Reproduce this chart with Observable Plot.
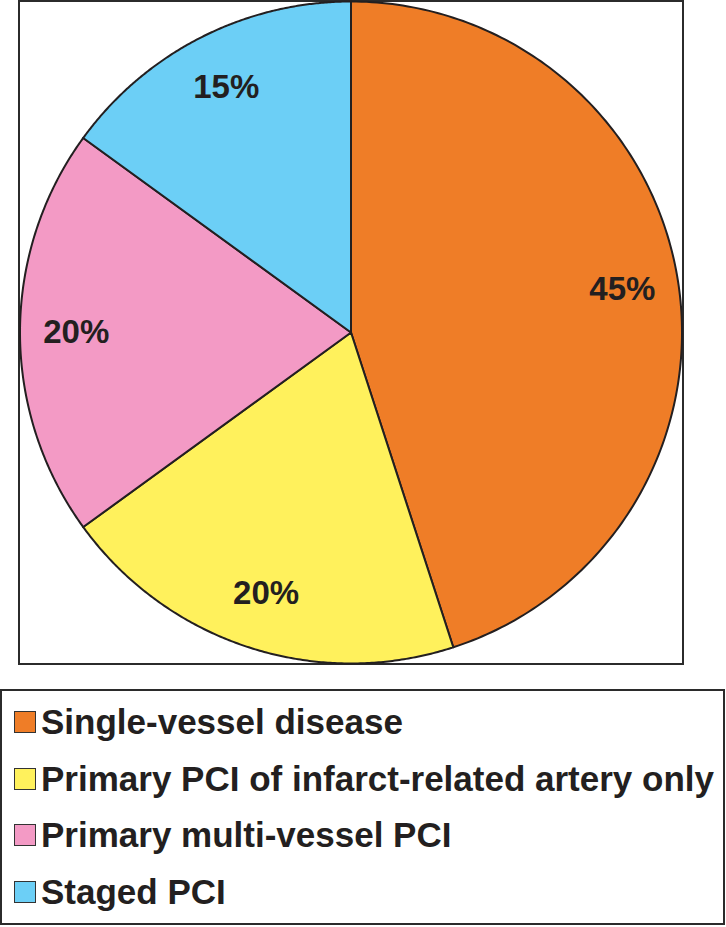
<!DOCTYPE html>
<html>
<head>
<meta charset="utf-8">
<script src="https://cdn.jsdelivr.net/npm/d3@7"></script>
<script src="https://cdn.jsdelivr.net/npm/@observablehq/plot@0.6"></script>
<style>
  body { margin: 0; background: #fff; font-family: "Liberation Sans", Arial, Helvetica, sans-serif; }
  #wrap { position: relative; width: 726px; height: 927px; overflow: hidden; }
  #box { position: absolute; left: 18px; top: 0px; width: 662px; height: 661px; border: 2px solid #2b2b2b; }
  #chart { position: absolute; left: 0; top: 0; }
  #legend { position: absolute; left: 0px; top: 689px; width: 721px; height: 232px; border: 2px solid #2b2b2b; }
  .sw { position: absolute; left: 14px; width: 20px; height: 20px; border: 1.5px solid #333; }
  .lt { position: absolute; left: 41px; font-size: 35px; font-weight: bold; line-height: 40px; color: #231f20; white-space: nowrap; }
</style>
</head>
<body>
<div id="wrap">
  <div id="box"></div>
  <div id="chart"></div>
</div>
<script>
// ---- data ----
const categories = [
  "Single-vessel disease",
  "Primary PCI of infarct-related artery only",
  "Primary multi-vessel PCI",
  "Staged PCI"
];
const values = [45, 20, 20, 15];
const labels = ["45%", "20%", "20%", "15%"];
const colors = ["#EF7D27", "#FFF15C", "#F39AC5", "#6CCFF6"];

// ---- geometry ----
const W = 726, H = 670, cx = 350.5, cy = 332, R = 331;
const arcs = d3.pie().sort(null).value(d => d)(values);
const poly = [];
arcs.forEach((a, i) => {
  const cat = categories[i];
  poly.push({cat, x: 0, y: 0});
  const n = 180;
  for (let j = 0; j <= n; j++) {
    const t = a.startAngle + (a.endAngle - a.startAngle) * j / n;
    poly.push({cat, x: Math.sin(t), y: Math.cos(t)});
  }
});
const lr = 0.83;
const labelData = arcs.map((a, i) => {
  const m = (a.startAngle + a.endAngle) / 2;
  return {label: labels[i], x: lr * Math.sin(m), y: lr * Math.cos(m)};
});

const chart = Plot.plot({
  width: W,
  height: H,
  margin: 0,
  style: {background: "transparent", overflow: "visible"},
  x: {domain: [-cx / R, (W - cx) / R], axis: null},
  y: {domain: [-(H - cy) / R, cy / R], axis: null},
  color: {domain: categories, range: colors},
  marks: [
    Plot.line(poly, {x: "x", y: "y", z: "cat", fill: "cat", stroke: "#231f20", strokeWidth: 2, curve: "linear-closed", strokeLinejoin: "round"}),
    Plot.text(labelData, {x: "x", y: "y", text: "label", fontSize: 33, fontWeight: "bold", fontFamily: "Liberation Sans, Arial, sans-serif", fill: "#231f20"})
  ]
});
document.getElementById("chart").appendChild(chart);

// ---- legend ----
const wrap = document.getElementById("wrap");
const legend = document.createElement("div");
legend.id = "legend";
wrap.appendChild(legend);
const rowTop = 702, rowStep = 56.5;
categories.forEach((c, i) => {
  const top = rowTop + i * rowStep;
  const sw = document.createElement("div");
  sw.className = "sw";
  sw.style.top = (top + 9) + "px";
  sw.style.background = colors[i];
  wrap.appendChild(sw);
  const t = document.createElement("div");
  t.className = "lt";
  t.style.top = top + "px";
  t.textContent = c;
  wrap.appendChild(t);
});
</script>
</body>
</html>
